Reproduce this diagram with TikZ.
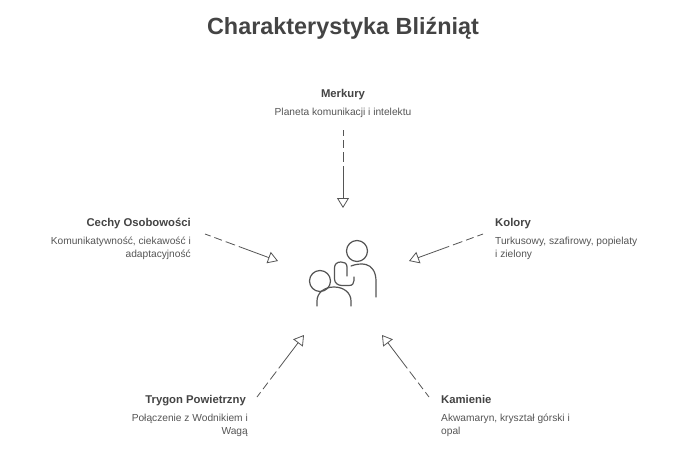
\documentclass[tikz,border=0pt]{standalone}
\usepackage{fontspec}
\setmainfont{Liberation Sans}
\usetikzlibrary{arrows.meta}
\definecolor{txtdark}{HTML}{444444}
\definecolor{txtdesc}{HTML}{555555}
\definecolor{linegray}{HTML}{555555}
\tikzset{
  titletext/.style={inner sep=0pt, text=txtdark, font=\fontsize{23.4}{28}\selectfont\bfseries},
  headtext/.style={inner sep=0pt, text=txtdark, font=\fontsize{11.3}{14}\selectfont\bfseries},
  desctext/.style={inner sep=0pt, text=txtdesc, font=\fontsize{10.2}{13}\selectfont},
  conn/.style={draw=linegray, line width=0.8pt,
    dash pattern=on 6pt off 4pt on 8pt off 4pt on 10pt off 4pt on 300pt off 1pt,
    -{Triangle[open, length=10pt, width=12pt, line width=0.8pt]}},
  iconline/.style={draw=linegray, line width=1.2pt, line cap=round, line join=round}
}
\begin{document}
\begin{tikzpicture}[x=1pt,y=-1pt]
\useasboundingbox (0,0) rectangle (686,460);
\fill[white] (0,0) rectangle (686,460);

% title
\node[titletext, anchor=base] (title) at (343,35) {Charakterystyka Bliźniąt};

% Merkury
\node[headtext, anchor=base] (merkH) at (343,98) {Merkury};
\node[desctext, anchor=base] (merkD) at (343,116) {Planeta komunikacji i intelektu};

% Cechy Osobowości
\node[headtext, anchor=base east] (cechH) at (191,226) {Cechy Osobowości};
\node[desctext, anchor=base east] (cechD) at (191,244) {\begin{tabular}[t]{@{}r@{}}Komunikatywność, ciekawość i\\adaptacyjność\end{tabular}};

% Kolory
\node[headtext, anchor=base west] (kolH) at (495,226) {Kolory};
\node[desctext, anchor=base west] (kolD) at (495,244) {\begin{tabular}[t]{@{}l@{}}Turkusowy, szafirowy, popielaty\\i zielony\end{tabular}};

% Trygon
\node[headtext, anchor=base east] (tryH) at (246,403) {Trygon Powietrzny};
\node[desctext, anchor=base east] (tryD) at (248,421) {\begin{tabular}[t]{@{}r@{}}Połączenie z Wodnikiem i\\Wagą\end{tabular}};

% Kamienie
\node[headtext, anchor=base west] (kamH) at (441,403) {Kamienie};
\node[desctext, anchor=base west] (kamD) at (441,421) {\begin{tabular}[t]{@{}l@{}}Akwamaryn, kryształ górski i\\opal\end{tabular}};

% icon
\node[minimum width=70pt, minimum height=70pt, inner sep=0pt] (icon) at (343,270) {};
\draw[iconline] (357,251) circle (10.5);
\draw[iconline] (351,266) .. controls (356,264) and (362,263.5) .. (366,264.5)
   .. controls (372,266) and (376,272) .. (376,281) -- (376,297);
\draw[iconline] (347,276) -- (347,267) .. controls (347,263) and (344,262) .. (341,262)
   .. controls (337,262) and (334.5,264) .. (334.5,268) -- (334.5,279)
   .. controls (334.5,283) and (338,285.5) .. (342,285.5) -- (349,285.5)
   .. controls (352.5,285.5) and (354,283.5) .. (354,280.5) -- (354,277);
\draw[iconline] (320,281) circle (10.5);
\draw[iconline] (317,306) -- (317,301) .. controls (317,293) and (324,287) .. (334,287)
   .. controls (344,287) and (351,293) .. (351,301) -- (351,306);

% connectors
\coordinate (merkS) at (343,130);
\coordinate (merkE) at (343,208);
\coordinate (cechS) at (205,234);
\coordinate (cechE) at (278,261);
\coordinate (kolS) at (483,234);
\coordinate (kolE) at (409,261);
\coordinate (tryS) at (257,397);
\coordinate (tryE) at (304,335);
\coordinate (kamS) at (429,397);
\coordinate (kamE) at (382,335);
\draw[conn] (merkS) -- (merkE);
\draw[conn] (cechS) -- (cechE);
\draw[conn] (kolS) -- (kolE);
\draw[conn] (tryS) -- (tryE);
\draw[conn] (kamS) -- (kamE);
\end{tikzpicture}
\end{document}
